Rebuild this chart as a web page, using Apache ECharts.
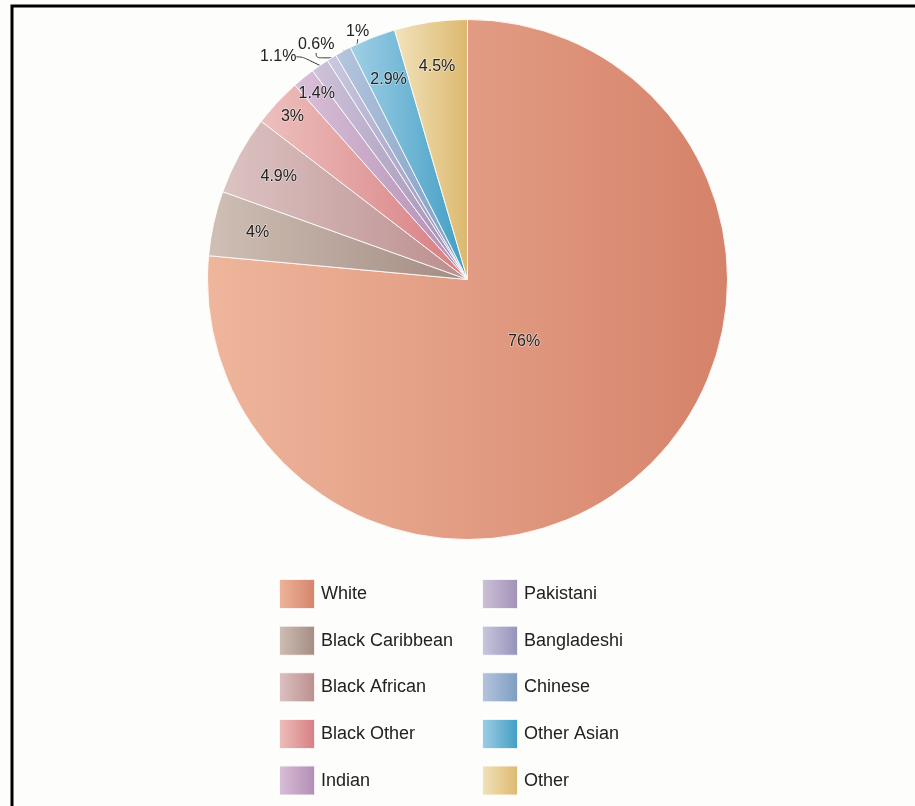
<!DOCTYPE html>
<html>
<head>
<meta charset="utf-8">
<script src="https://cdn.jsdelivr.net/npm/echarts@6/dist/echarts.min.js"></script>
<style>
html,body{margin:0;padding:0;background:#fdfdfb;}
#chart{width:915px;height:806px;}
</style>
</head>
<body>
<div id="chart"></div>
<script>
const categories = ['White', 'Black Caribbean', 'Black African', 'Black Other', 'Indian', 'Pakistani', 'Bangladeshi', 'Chinese', 'Other Asian', 'Other'];
const shares = [76, 4, 4.9, 3, 1.4, 1.1, 0.6, 1, 2.9, 4.5];

const paletteLight = ['#eeb69c', '#cfbfb4', '#dcc3c2', '#edc0bd', '#d9c0d8', '#cec3da', '#cbc8e0', '#b6c6de', '#a0d0e5', '#f2e3bd'];
const paletteDark  = ['#d5826a', '#a38b82', '#bb8d8e', '#d77c80', '#b28cb3', '#a090b5', '#9491b8', '#7c9cc1', '#3f9cc4', '#dcb86e'];

const outsideLabels = ['Pakistani', 'Bangladeshi', 'Chinese'];
// small nudges of the outside labels (text placement only)
const outsideLabelShift = { 'Pakistani': [-10, -2], 'Bangladeshi': [16, -6], 'Chinese': [39, -13] };
const ringLabels = ['Black Caribbean', 'Black African', 'Other Asian', 'Other'];
const outerRingLabels = ['Black Other', 'Indian'];
const centerLabels = ['White'];

const CX = 467.5, CY = 279.5, R = 260;
const FONT = '"Liberation Sans", Arial, sans-serif';

function grad(i) {
  return new echarts.graphic.LinearGradient(0, 0, 1, 0, [
    { offset: 0, color: paletteLight[i] },
    { offset: 1, color: paletteDark[i] }
  ]);
}

const labelStyle = {
  color: '#222',
  fontSize: 16,
  fontFamily: FONT,
  textBorderColor: 'rgba(255,255,255,0.45)',
  textBorderWidth: 1.5,
  formatter: '{c}%'
};

const mainData = categories.map((name, i) => ({
  name: name,
  value: shares[i],
  itemStyle: { color: grad(i) },
  label: { show: outsideLabels.includes(name) },
  labelLine: { show: outsideLabels.includes(name) }
}));

function helperData(names) {
  return categories.map((name, i) => ({
    name: name,
    value: shares[i],
    label: { show: names.includes(name) }
  }));
}

function helperSeries(radius, names) {
  return {
    type: 'pie',
    center: [CX, CY],
    radius: radius,
    startAngle: 90,
    silent: true,
    legendHoverLink: false,
    itemStyle: { color: 'rgba(0,0,0,0)', borderWidth: 0 },
    emphasis: { disabled: true },
    label: Object.assign({ position: 'inside' }, labelStyle),
    labelLine: { show: false },
    data: helperData(names)
  };
}

const legendBase = {
  orient: 'vertical',
  top: 578,
  height: 228,
  padding: 0,
  itemWidth: 36,
  itemHeight: 30,
  itemGap: 14.65,
  icon: 'rect',
  selectedMode: false,
  textStyle: { fontSize: 18, lineHeight: 20, color: '#222', fontFamily: FONT, padding: [0, 0, 0, 1] }
};

const chart = echarts.init(document.getElementById('chart'));
chart.setOption({
  backgroundColor: '#fdfdfb',
  animation: false,
  graphic: [{
    type: 'rect',
    silent: true,
    shape: { x: 12, y: 6, width: 960, height: 860 },
    style: { fill: 'none', stroke: '#000', lineWidth: 3 }
  }],
  legend: [
    Object.assign({}, legendBase, { left: 278, data: categories.slice(0, 5) }),
    Object.assign({}, legendBase, { left: 481, data: categories.slice(5) })
  ],
  series: [
    {
      type: 'pie',
      center: [CX, CY],
      radius: [0, R],
      startAngle: 90,
      avoidLabelOverlap: false,
      itemStyle: { borderColor: 'rgba(255,255,255,0.85)', borderWidth: 1 },
      emphasis: { scale: false },
      label: Object.assign({ position: 'outside', distanceToLabelLine: 3 }, labelStyle, { textBorderWidth: 0 }),
      labelLine: { length: 8, length2: 6, smooth: 0.4, lineStyle: { color: '#333', width: 1 } },
      labelLayout: function (params) {
        const name = categories[params.dataIndex];
        const s = outsideLabelShift[name];
        if (!s) return {};
        const r = params.labelRect;
        return {
          x: r.x + r.width / 2 + s[0],
          y: r.y + r.height / 2 + s[1],
          align: 'center',
          verticalAlign: 'middle'
        };
      },
      data: mainData
    },
    helperSeries([164, R], ringLabels),
    helperSeries([212, R], outerRingLabels),
    helperSeries([0, 162], centerLabels)
  ]
});
</script>
</body>
</html>
